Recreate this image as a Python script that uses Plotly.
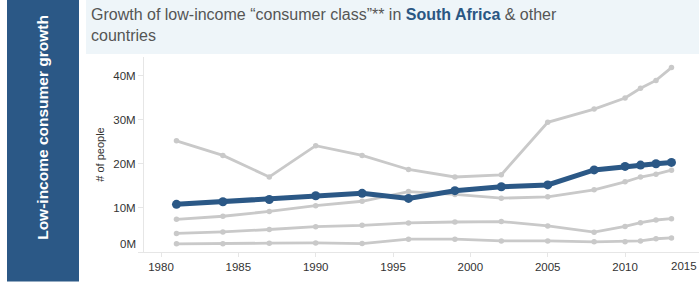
import plotly.graph_objects as go

years = [1981, 1984, 1987, 1990, 1993, 1996, 1999, 2002, 2005, 2008, 2010, 2011, 2012, 2013]
south_africa = [10.8, 11.4, 11.9, 12.75, 13.3, 12.15, 13.9, 14.8, 15.2, 18.6, 19.4, 19.7, 20.0, 20.3]
other_a = [25.2, 21.9, 17.0, 24.1, 21.9, 18.7, 17.0, 17.5, 29.4, 32.4, 34.9, 37.1, 38.9, 41.8]
other_b = [7.4, 8.1, 9.2, 10.5, 11.5, 13.7, 13.05, 12.2, 12.5, 14.1, 15.9, 17.0, 17.65, 18.55]
other_c = [4.2, 4.55, 5.1, 5.75, 6.05, 6.6, 6.8, 6.9, 5.9, 4.5, 5.8, 6.65, 7.25, 7.55]
other_d = [1.85, 1.85, 2.0, 2.05, 1.9, 2.9, 2.9, 2.5, 2.5, 2.3, 2.35, 2.5, 3.0, 3.2]
others = [other_a, other_b, other_c, other_d]

y_ticks = [0, 10, 20, 30, 40]
y_ticktext = ["", "10M", "20M", "30M", "40M"]
x_ticks = [1980, 1985, 1990, 1995, 2000, 2005, 2010]

W, H = 699, 286
L, R, T, B = 144, 0, 57, 33.5
BLUE = "#2b5886"
GRAY = "#c9c9c9"
FONT = "Liberation Sans, Arial, sans-serif"

fig = go.Figure()
for s in others:
    fig.add_trace(go.Scatter(x=years, y=s, mode="lines+markers",
                             line=dict(color=GRAY, width=2.8),
                             marker=dict(color=GRAY, size=5.5), showlegend=False))
fig.add_trace(go.Scatter(x=years, y=south_africa, mode="lines+markers",
                         line=dict(color=BLUE, width=5),
                         marker=dict(color=BLUE, size=9), showlegend=False))

pw = W - L - R
ph = H - T - B

def ax(p):
    return (p - L) / pw

def ay(p):
    return (H - B - p) / ph

shapes = [
    dict(type="rect", xref="paper", yref="paper", x0=ax(7), x1=ax(79),
         y0=ay(282), y1=ay(-2), fillcolor=BLUE, line_width=0, layer="below"),
    dict(type="rect", xref="paper", yref="paper", x0=ax(86), x1=ax(701),
         y0=ay(54), y1=ay(-2), fillcolor="#eef5f9", line_width=0, layer="below"),
]

annotations = [
    dict(text="<b>Low-income consumer growth</b>", textangle=-90, xref="paper", yref="paper",
         x=ax(43), y=ay(128), xanchor="center", yanchor="middle", showarrow=False,
         font=dict(family=FONT, size=15.5, color="white")),
    dict(text="Growth of low-income “consumer class”** in <b><span style='color:#2a5783'>South Africa</span></b> &amp; other<br>countries",
         xref="paper", yref="paper", x=ax(89), y=ay(4), xanchor="left", yanchor="top",
         align="left", showarrow=False, font=dict(family=FONT, size=16, color="#555555")),
    dict(text="0M", xref="paper", yref="y", x=ax(138), y=0, yshift=8, xanchor="right",
         yanchor="middle", showarrow=False, font=dict(family=FONT, size=11.5, color="#333333")),
    dict(text="2015", xref="paper", yref="paper", x=ax(699), y=ay(267), xanchor="right",
         yanchor="middle", showarrow=False, font=dict(family=FONT, size=11.5, color="#333333")),
]

fig.update_layout(
    width=W, height=H, margin=dict(l=L, r=R, t=T, b=B, pad=0, autoexpand=False),
    paper_bgcolor="white", plot_bgcolor="white",
    shapes=shapes, annotations=annotations, showlegend=False,
    font=dict(family=FONT, size=11.5, color="#333333"),
    xaxis=dict(range=[1978.9, 2014.78], tickvals=x_ticks, showgrid=False, zeroline=False,
               showline=True, linecolor="#e6e6e6", linewidth=1, ticks="outside",
               ticklen=4, tickcolor="#e6e6e6", tickfont=dict(size=11.5, color="#333333"),
               automargin=False),
    yaxis=dict(range=[0, 44.2], tickvals=y_ticks, ticktext=y_ticktext, showgrid=False,
               zeroline=False, showline=True, linecolor="#e6e6e6", linewidth=1,
               ticks="outside", ticklen=5, tickcolor="#e6e6e6",
               tickfont=dict(size=11.5, color="#333333"), automargin=False,
               title=dict(text="# of people", font=dict(size=11, color="#333333"), standoff=6)),
)

fig.write_html("out.html", config={"displayModeBar": False},
               post_script="document.body.style.margin='0';document.body.style.overflow='hidden';")
